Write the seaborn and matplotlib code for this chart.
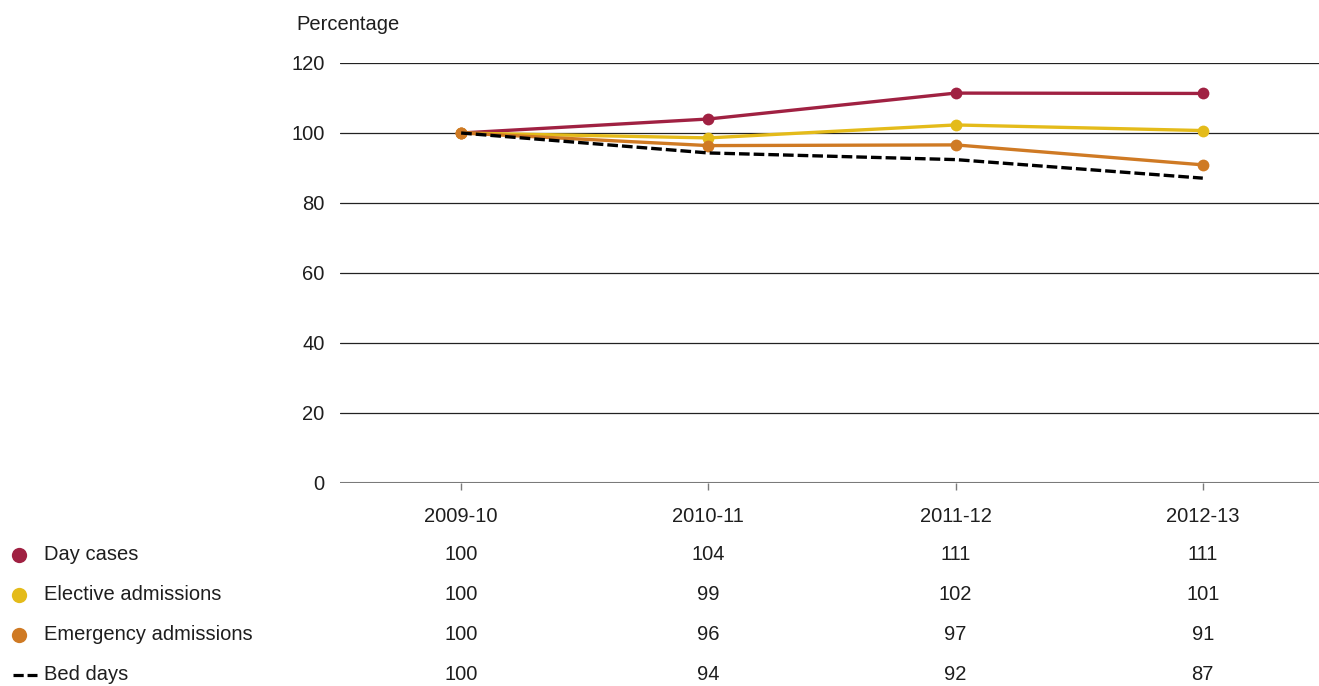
import numpy as np
import pandas as pd
import matplotlib
matplotlib.use('Agg')
import matplotlib.pyplot as plt
import matplotlib.transforms as mtransforms
from matplotlib.lines import Line2D
import seaborn as sns

years = ['2009-10', '2010-11', '2011-12', '2012-13']
day_cases = [100, 104.0, 111.4, 111.3]
elective = [100, 98.6, 102.3, 100.7]
emergency = [100, 96.4, 96.6, 90.9]
bed_days = [100, 94.3, 92.4, 87.1]
series_names = ['Day cases', 'Elective admissions', 'Emergency admissions', 'Bed days']
colors = ['#a02142', '#e4bb1a', '#cf7a24', '#000000']
yticks = [0, 20, 40, 60, 80, 100, 120]

sns.set_theme(style='white')
plt.rcParams['font.family'] = ['Liberation Sans', 'DejaVu Sans']
txt = '#1e1e1e'
fs = 14.5

df = pd.DataFrame({'year': years, 'idx': range(len(years)),
                   'Day cases': day_cases, 'Elective admissions': elective,
                   'Emergency admissions': emergency, 'Bed days': bed_days})

fig = plt.figure(figsize=(13.19, 6.86), dpi=100)
ax = fig.add_axes([340/1319, 1-483/686, 1-340/1319, 420/686])

for y in yticks[1:]:
    ax.axhline(y, color='#222222', lw=0.9, zorder=1)
ax.axhline(0, color='#7a7a7a', lw=1.5, zorder=1)

for name, c in zip(series_names, colors):
    if name == 'Bed days':
        sns.lineplot(data=df, x='idx', y=name, ax=ax, color=c, lw=2.4,
                     dashes=False, zorder=5)
        ax.lines[-1].set_dashes((3.2, 1.2))
    else:
        sns.lineplot(data=df, x='idx', y=name, ax=ax, color=c, lw=2.4,
                     marker='o', markersize=8.5, markeredgewidth=0, zorder=3)

ax.set_xlim(-0.49, 3.47)
ax.set_ylim(0, 120)
ax.set_xticks(range(len(years)))
ax.set_xticklabels(years)
ax.set_yticks(yticks)
ax.set_xlabel('')
ax.set_ylabel('')
for s in ax.spines.values():
    s.set_visible(False)
ax.tick_params(axis='x', length=5, width=1, color='#7a7a7a', pad=12,
               labelsize=fs, labelcolor=txt, bottom=True, direction='out')
ax.tick_params(axis='y', length=0, pad=11, labelsize=fs, labelcolor=txt)
ax.grid(False)

fig.text(296/1319, 1-24/686, 'Percentage', fontsize=fs, color=txt, va='center', ha='left')

# table below chart
trans = mtransforms.blended_transform_factory(ax.transData, fig.transFigure)
rows_y = [1-555/686, 1-595/686, 1-635/686, 1-675/686]
all_vals = [day_cases, elective, emergency, bed_days]
for name, c, vals, ry in zip(series_names, colors, all_vals, rows_y):
    if name == 'Bed days':
        fig.add_artist(Line2D([13/1319, 37/1319], [ry, ry], color=c, lw=2.3,
                              dashes=(3.2, 1.2), transform=fig.transFigure))
    else:
        fig.add_artist(Line2D([19/1319], [ry], marker='o', markersize=11,
                              markeredgewidth=0, color=c, transform=fig.transFigure))
    fig.text(44/1319, ry, name, fontsize=fs, color=txt, va='center', ha='left')
    for i, v in enumerate(vals):
        ax.text(i, ry, f'{int(round(v))}', transform=trans, fontsize=fs,
                color=txt, ha='center', va='center', clip_on=False)

fig.savefig('out.png', dpi=100)
